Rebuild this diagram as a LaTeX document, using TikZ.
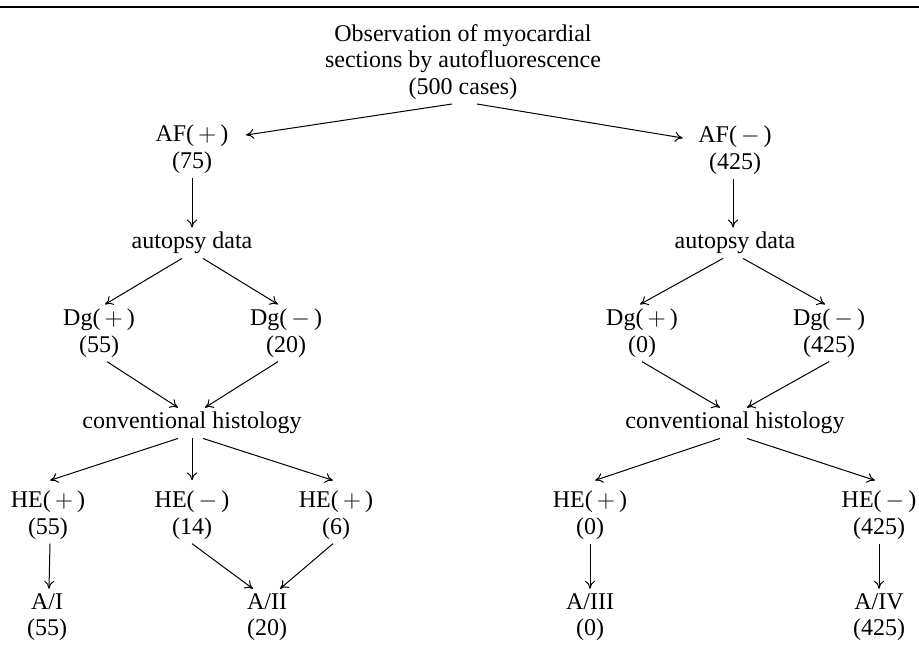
\documentclass[tikz,border=0pt]{standalone}
\usepackage{fontspec}
\setmainfont{Liberation Serif}
\usetikzlibrary{arrows.meta}

\begin{document}
\begin{tikzpicture}[x=0.5pt, y=-0.5pt, line width=0.5pt, >={To[length=4pt,width=5pt]},
		every node/.style={align=center, inner sep=2pt, font=\fontsize{12}{13.25}\selectfont}]
	\useasboundingbox (0,0) rectangle (919,653);
	\draw [line width=1pt] (0,7) -- (919,7);
	% top
	\node (obs) at (463,62) {Observation of myocardial\\sections by autofluorescence\\(500 cases)};
	\node (afp) at (192,149) {AF($\,+\,$)\\(75)};
	\node (afn) at (735,150) {AF($\,-\,$)\\(425)};
	\draw [->] ([xshift=-5.5pt]obs.south) -- ([xshift=6.5pt,yshift=7pt]afp.east);
	\draw [->] ([xshift=7pt]obs.south) -- ([xshift=-5.5pt,yshift=6pt]afn.west);
	% left branch
	\node (aud) at (192,243) {autopsy data};
	\node (dgp) at (99,333) {Dg($\,+\,$)\\(55)};
	\node (dgn) at (286,333) {Dg($\,-\,$)\\(20)};
	\node (conv) at (192,423) {conventional histology};
	\node (hea) at (48,515) {HE($\,+\,$)\\(55)};
	\node (heb) at (192,515) {HE($\,-\,$)\\(14)};
	\node (hec) at (336,515) {HE($\,+\,$)\\(6)};
	\node (ai) at (47,617) {A/I\\(55)};
	\node (aii) at (267,617) {A/II\\(20)};
	\draw [->] (afp.south) -- (aud.north);
	\draw [->] ([xshift=-5pt]aud.south) -- ([xshift=3pt]dgp.north);
	\draw [->] ([xshift=5.5pt]aud.south) -- ([xshift=-4pt]dgn.north);
	\draw [->] ([xshift=4pt]dgp.south) -- ([xshift=-7pt]conv.north);
	\draw [->] ([xshift=-4pt]dgn.south) -- ([xshift=6.5pt]conv.north);
	\draw [->] ([xshift=-7pt]conv.south) -- ([xshift=1pt,yshift=3pt]hea.north);
	\draw [->] (conv.south) -- ([yshift=3pt]heb.north);
	\draw [->] ([xshift=5.5pt]conv.south) -- ([xshift=-1.5pt,yshift=3pt]hec.north);
	\draw [->] ([xshift=1pt]hea.south) -- ([xshift=1pt]ai.north);
	\draw [->] (heb.south) -- ([xshift=-7pt]aii.north);
	\draw [->] ([xshift=-1.5pt]hec.south) -- ([xshift=6.5pt]aii.north);
	% right branch
	\node (aud2) at (735,243) {autopsy data};
	\node (dgp2) at (642,333) {Dg($\,+\,$)\\(0)};
	\node (dgn2) at (829,333) {Dg($\,-\,$)\\(425)};
	\node (conv2) at (735,423) {conventional histology};
	\node (hed) at (590,515) {HE($\,+\,$)\\(0)};
	\node (hee) at (879,515) {HE($\,-\,$)\\(425)};
	\node (aiii) at (590,617) {A/III\\(0)};
	\node (aiv) at (879,617) {A/IV\\(425)};
	\draw [->] ([xshift=-1pt]afn.south) -- ([xshift=-1pt]aud2.north);
	\draw [->] ([xshift=-6pt]aud2.south) -- ([xshift=-1pt]dgp2.north);
	\draw [->] ([xshift=4pt]aud2.south) -- ([xshift=-2pt]dgn2.north);
	\draw [->] (dgp2.south) -- ([xshift=-7.5pt]conv2.north);
	\draw [->] (dgn2.south) -- ([xshift=6pt]conv2.north);
	\draw [->] ([xshift=-7.5pt]conv2.south) -- ([xshift=2.5pt,yshift=3pt]hed.north);
	\draw [->] ([xshift=6pt]conv2.south) -- ([xshift=-2pt,yshift=3pt]hee.north);
	\draw [->] (hed.south) -- (aiii.north);
	\draw [->] (hee.south) -- (aiv.north);
\end{tikzpicture}
\end{document}
